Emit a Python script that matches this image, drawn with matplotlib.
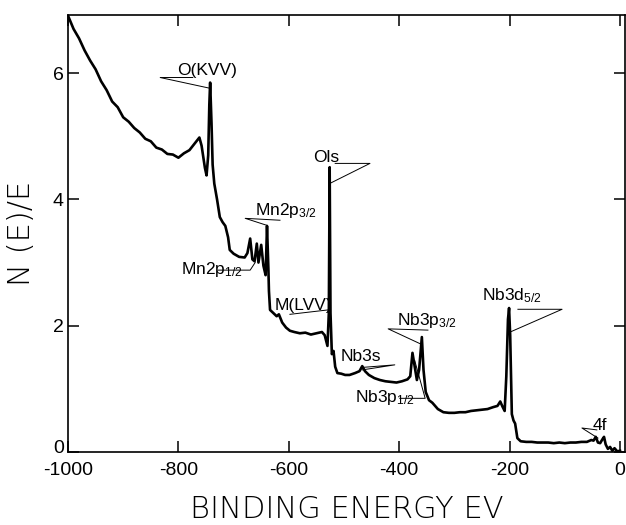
import matplotlib
matplotlib.use("Agg")
import matplotlib.pyplot as plt
from matplotlib.transforms import ScaledTranslation

plt.rcParams['axes.unicode_minus'] = False
plt.rcParams['font.family'] = ['Liberation Sans', 'DejaVu Sans']
plt.rcParams['mathtext.fontset'] = 'custom'
plt.rcParams['mathtext.rm'] = 'Liberation Sans'
plt.rcParams['mathtext.it'] = 'Liberation Sans'

# ---- spectrum (binding energy, N(E)/E) ----
energy = [-1000, -990, -980, -970, -960, -950, -940, -930, -920, -910, -900,
          -890, -880, -870, -860, -850, -840, -830, -820, -810, -800, -790,
          -780, -770, -762, -758, -752, -749, -746, -744, -742.5, -740, -738,
          -735, -730, -725, -720, -715, -710, -707, -700, -690, -680, -675,
          -670, -666, -662, -658, -655, -650, -646, -642, -639.5, -637, -636,
          -634, -628, -622, -618, -612, -605, -598, -590, -580, -570, -560,
          -550, -540, -535, -530, -527.5, -526, -524.5, -522, -519, -516,
          -512, -505, -498, -490, -480, -472, -467, -462, -455, -445, -435,
          -425, -415, -405, -395, -385, -380, -376, -372, -368, -364, -359,
          -356, -352, -346, -340, -330, -320, -310, -300, -290, -280, -270,
          -260, -250, -240, -230, -222, -217, -213, -209, -206, -203, -201,
          -199, -196, -193, -190, -186, -180, -170, -160, -150, -140, -130,
          -120, -110, -100, -90, -80, -70, -60, -52, -48, -44, -40, -36, -32,
          -29, -26, -22, -18, -14, -10, -5, 0]
intensity = [6.91, 6.70, 6.55, 6.36, 6.20, 6.06, 5.87, 5.73, 5.55, 5.46, 5.30,
             5.23, 5.13, 5.06, 4.96, 4.92, 4.82, 4.79, 4.72, 4.71, 4.66, 4.73,
             4.78, 4.89, 4.98, 4.85, 4.50, 4.38, 4.70, 5.50, 5.85, 5.20, 4.55,
             4.25, 4.00, 3.72, 3.64, 3.58, 3.40, 3.20, 3.14, 3.09, 3.08, 3.15,
             3.38, 3.05, 3.02, 3.30, 3.00, 3.28, 2.95, 2.80, 3.58, 2.90, 2.55,
             2.25, 2.20, 2.15, 2.18, 2.05, 1.97, 1.92, 1.90, 1.88, 1.89, 1.86,
             1.88, 1.90, 1.85, 1.68, 2.20, 4.51, 2.20, 1.55, 1.60, 1.35,
             1.25, 1.24, 1.22, 1.22, 1.25, 1.28, 1.36, 1.28, 1.22, 1.17, 1.14,
             1.12, 1.11, 1.10, 1.12, 1.15, 1.20, 1.57, 1.35, 1.14, 1.30, 1.82,
             1.30, 0.95, 0.82, 0.78, 0.68, 0.63, 0.62, 0.62, 0.63, 0.63, 0.65,
             0.66, 0.67, 0.68, 0.71, 0.73, 0.80, 0.72, 0.65, 1.20, 2.10, 2.28,
             1.85, 0.60, 0.50, 0.45, 0.22, 0.17, 0.16, 0.16, 0.15, 0.15, 0.15,
             0.14, 0.15, 0.14, 0.15, 0.15, 0.16, 0.16, 0.19, 0.18, 0.24, 0.15,
             0.14, 0.20, 0.24, 0.12, 0.05, 0.08, 0.02, 0.06, 0.01, 0.02]

# ---- peak labels ----
label_texts = ["O(KVV)", r"Mn2p$_{3/2}$", r"Mn2p$_{1/2}$", "Ols", "M(LVV)",
               "Nb3s", r"Nb3p$_{3/2}$", r"Nb3p$_{1/2}$", r"Nb3d$_{5/2}$", "4f"]
label_pos = [(-803, 5.92), (-661, 3.67), (-795, 2.74), (-556, 4.55), (-625, 2.20),
             (-507, 1.40), (-404, 1.93), (-480, 0.72), (-250, 2.33), (-49, 0.30)]
# leader polylines: apex/horizontal segment then line to the peak
leaders = [
    [(-774, 5.93), (-833, 5.93), (-743, 5.76)],
    [(-616, 3.67), (-679, 3.70), (-640, 3.59)],
    [(-728, 2.88), (-670, 2.88), (-661, 3.00)],
    [(-516, 4.57), (-453, 4.57), (-524, 4.26)],
    [(-598, 2.18), (-529, 2.25)],
    [(-466, 1.34), (-408, 1.38), (-467, 1.30)],
    [(-348, 1.93), (-420, 1.95), (-361, 1.71)],
    [(-399, 0.85), (-353, 0.85), (-372, 1.45)],
    [(-185, 2.26), (-105, 2.26), (-199, 1.90)],
    [(-42, 0.35), (-69, 0.38), (-40, 0.22)],
]

xticks = [-1000, -800, -600, -400, -200, 0]
yticks = [0, 2, 4, 6]

fig = plt.figure(figsize=(6.26, 5.25), dpi=100)
ax = fig.add_axes([68/626, 73/525, 557/626, 437/525])

ax.plot(energy, intensity, color='black', lw=1.9, solid_joinstyle='round')

for t, (lx, ly) in zip(label_texts, label_pos):
    ax.text(lx, ly, t, fontsize=12.5, ha='left', va='bottom', color='black')
for seg in leaders:
    xs = [p[0] for p in seg]
    ys = [p[1] for p in seg]
    ax.plot(xs, ys, color='black', lw=0.7)

ax.set_xlim(-1000, 9)
ax.set_ylim(0, 6.92)
ax.set_xticks(xticks)
ax.set_yticks(yticks)
ax.set_xticklabels([str(v) for v in xticks])
ax.set_yticklabels([str(v) for v in yticks])
ax.tick_params(direction='in', length=8, width=1.1, top=True, right=True,
               labelsize=14)
ax.tick_params(axis='x', pad=7)
ax.tick_params(axis='y', pad=3)
for s in ax.spines.values():
    s.set_linewidth(1.2)

# lift the y "0" label a little so it clears "-1000"
zero_lbl = ax.get_yticklabels()[0]
zero_lbl.set_transform(zero_lbl.get_transform() +
                       ScaledTranslation(0, 4/72, fig.dpi_scale_trans))

ax.set_xlabel("BINDING ENERGY EV", fontsize=22, fontfamily='DejaVu Sans',
              fontweight='light', labelpad=12)
ax.set_ylabel("N (E)/E", fontsize=22, fontfamily='DejaVu Sans',
              fontweight='light', labelpad=12)

fig.savefig("out.png", dpi=100)
